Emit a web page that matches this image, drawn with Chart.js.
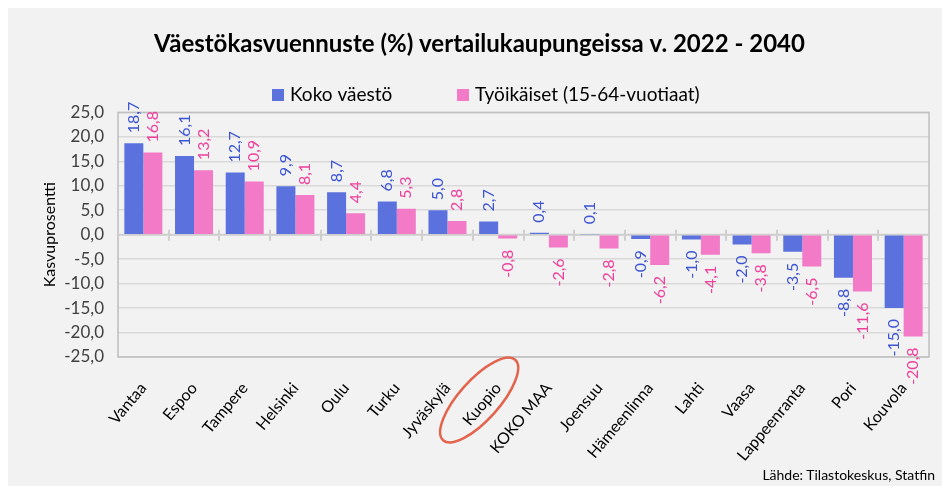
<!DOCTYPE html>
<html>
<head>
<meta charset="utf-8">
<script src="https://cdn.jsdelivr.net/npm/chart.js@4.4.1/dist/chart.umd.min.js"></script>
<style>
  body { margin: 0; background: #fff; }
  #wrap { position: relative; width: 942px; height: 486px; }
  #bg { position: absolute; left: 8px; top: 8px; right: 0; bottom: 0; background: #f2f2f2; }
  canvas { position: absolute; left: 0; top: 0; }
  #source { position: absolute; right: 7px; top: 466px; font: 14px Lato, 'DejaVu Sans Condensed', sans-serif; color: #000; }
</style>
</head>
<body>
<div id="wrap">
  <div id="bg"></div>
  <canvas id="chart" width="942" height="486"></canvas>
  <div id="source">Lähde: Tilastokeskus, Statfin</div>
</div>
<script>
const FONT = "Lato, 'DejaVu Sans Condensed', sans-serif";

const cities = ['Vantaa', 'Espoo', 'Tampere', 'Helsinki', 'Oulu', 'Turku', 'Jyväskylä', 'Kuopio',
  'KOKO MAA', 'Joensuu', 'Hämeenlinna', 'Lahti', 'Vaasa', 'Lappeenranta', 'Pori', 'Kouvola'];
const kokoVaesto = [18.7, 16.1, 12.7, 9.9, 8.7, 6.8, 5.0, 2.7, 0.4, 0.1, -0.9, -1.0, -2.0, -3.5, -8.8, -15.0];
const tyoikaiset = [16.8, 13.2, 10.9, 8.1, 4.4, 5.3, 2.8, -0.8, -2.6, -2.8, -6.2, -4.1, -3.8, -6.5, -11.6, -20.8];
const yMin = -25, yMax = 25, yStep = 5;
const highlighted = 'Kuopio';

const fmt = v => v.toFixed(1).replace('.', ',');

// rotated value labels at the bar ends
const valueLabels = {
  id: 'valueLabels',
  afterDatasetsDraw(chart) {
    const ctx = chart.ctx;
    chart.data.datasets.forEach((ds, i) => {
      const meta = chart.getDatasetMeta(i);
      meta.data.forEach((bar, j) => {
        const v = ds.data[j];
        ctx.save();
        ctx.translate(bar.x, v >= 0 ? bar.y - 10 : bar.y + 11);
        ctx.rotate(-Math.PI / 2);
        ctx.font = '16px ' + FONT;
        ctx.fillStyle = ds.labelColor;
        ctx.textAlign = v >= 0 ? 'left' : 'right';
        ctx.textBaseline = 'middle';
        ctx.fillText(fmt(v), 0, 0);
        ctx.restore();
      });
    });
  }
};

// plot frame, zero line with category ticks, legend and the highlight ring
const decorations = {
  id: 'decorations',
  beforeDatasetsDraw(chart) {
    const { ctx, chartArea: a, scales: { x, y } } = chart;
    ctx.save();
    ctx.strokeStyle = '#bfbfbf';
    ctx.lineWidth = 1.5;
    ctx.strokeRect(a.left, a.top, a.right - a.left, a.bottom - a.top);
    const y0 = y.getPixelForValue(0);
    ctx.strokeStyle = '#cfcfcf';
    ctx.lineWidth = 2;
    ctx.beginPath();
    ctx.moveTo(a.left, y0);
    ctx.lineTo(a.right, y0);
    for (let i = 1; i < cities.length; i++) {
      const px = Math.round(x.getPixelForValue(i - 0.5));
      ctx.moveTo(px, y0 - 5);
      ctx.lineTo(px, y0 + 6);
    }
    ctx.stroke();
    ctx.restore();
  },
  afterDraw(chart) {
    const { ctx, chartArea: a, scales: { x } } = chart;
    ctx.save();
    // legend
    ctx.font = '19px ' + FONT;
    ctx.textBaseline = 'middle';
    const items = chart.data.datasets.map(ds => ({ text: ds.label, color: ds.backgroundColor }));
    const starts = [272, 457];
    items.forEach((it, i) => {
      ctx.fillStyle = it.color;
      ctx.fillRect(starts[i], 89, 12, 12);
      ctx.fillStyle = '#000';
      ctx.fillText(it.text, starts[i] + 18, 95);
    });
    // ring around highlighted city
    const idx = cities.indexOf(highlighted);
    const cx = x.getPixelForValue(idx) - 19;
    const cy = a.bottom + 43;
    ctx.strokeStyle = '#e3634c';
    ctx.lineWidth = 2.5;
    ctx.beginPath();
    ctx.ellipse(cx, cy, 54, 20, -0.84, 0, Math.PI * 2);
    ctx.stroke();
    ctx.restore();
  }
};

new Chart(document.getElementById('chart'), {
  type: 'bar',
  data: {
    labels: cities,
    datasets: [{
      label: 'Koko väestö',
      data: kokoVaesto,
      backgroundColor: '#5b72de',
      labelColor: '#3d55d2'
    }, {
      label: 'Työikäiset (15-64-vuotiaat)',
      data: tyoikaiset,
      backgroundColor: '#f27ac6',
      labelColor: '#ee3f9c'
    }]
  },
  options: {
    responsive: false,
    animation: false,
    layout: { padding: { left: 30, right: 13, top: 0, bottom: 0 } },
    datasets: { bar: { categoryPercentage: 0.75, barPercentage: 1 } },
    plugins: {
      legend: { display: false },
      tooltip: { enabled: false },
      title: {
        display: true,
        text: 'Väestökasvuennuste (%) vertailukaupungeissa v. 2022 - 2040',
        color: '#000',
        font: { family: FONT, size: 24, weight: 'bold', lineHeight: 1.1 },
        padding: { top: 31, bottom: 55 }
      }
    },
    scales: {
      x: {
        grid: { display: false },
        border: { display: false },
        ticks: {
          color: '#000',
          font: { family: FONT, size: 16 },
          minRotation: 50,
          maxRotation: 50,
          padding: 14
        },
        afterFit(s) { s.height = 129; }
      },
      y: {
        min: yMin,
        max: yMax,
        grid: { color: '#d9d9d9', lineWidth: 1.5, drawTicks: false },
        border: { display: false },
        ticks: {
          stepSize: yStep,
          color: '#404040',
          font: { family: FONT, size: 17 },
          padding: 14,
          callback: v => fmt(v)
        },
        title: {
          display: true,
          text: 'Kasvuprosentti',
          color: '#000',
          font: { family: FONT, size: 16 },
          padding: { top: 10, bottom: 0 }
        },
        afterFit(s) { s.width = 88; }
      }
    }
  },
  plugins: [valueLabels, decorations]
});
</script>
</body>
</html>
